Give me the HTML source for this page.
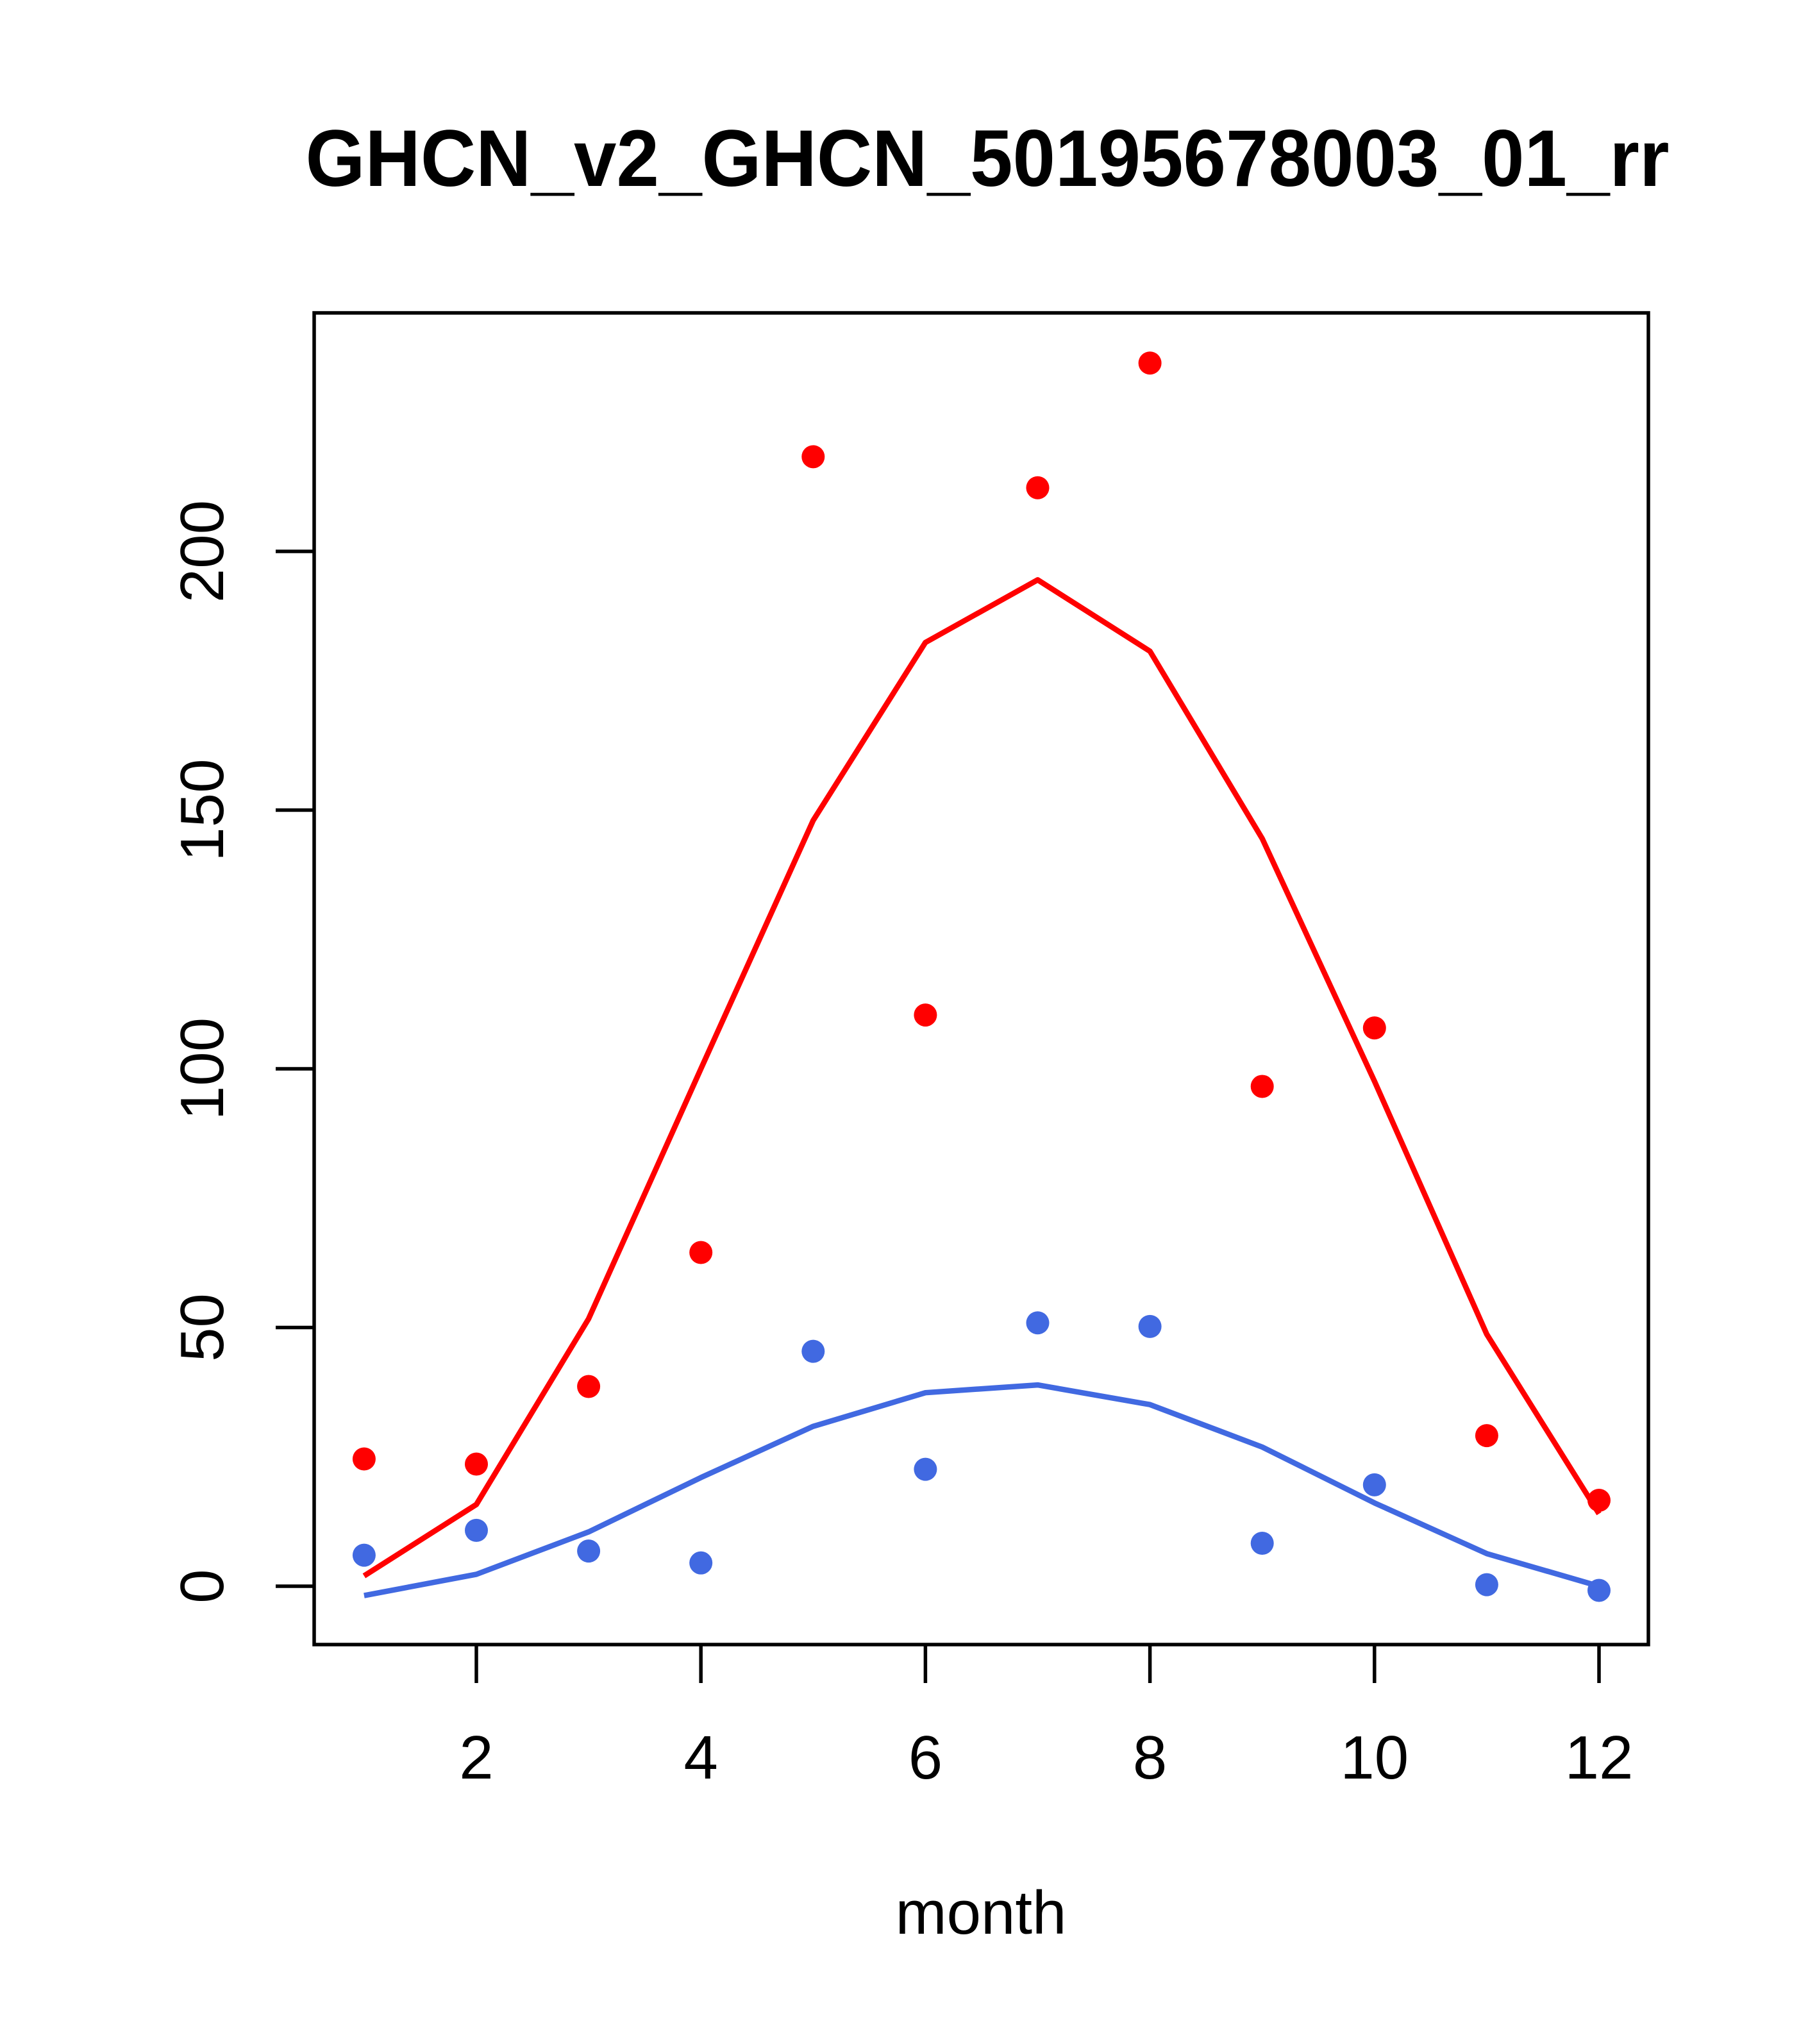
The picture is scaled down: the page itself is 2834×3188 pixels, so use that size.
<!DOCTYPE html>
<html><head><meta charset="utf-8"><style>html,body{margin:0;padding:0;background:#fff}svg{display:block}</style></head>
<body>
<svg id="chart" width="2834" height="3188" xmlns="http://www.w3.org/2000/svg" font-family="Liberation Sans, Arial, sans-serif">
<rect width="2834" height="3188" fill="#fff"/>
<text x="1540" y="290" font-size="125" font-weight="bold" text-anchor="middle" textLength="2127" lengthAdjust="spacingAndGlyphs">GHCN_v2_GHCN_50195678003_01_rr</text>
<rect x="490" y="488" width="2081" height="2077" fill="none" stroke="#000" stroke-width="5.5"/>
<g id="axes"></g>
<g id="marks"></g>
<text x="1530" y="3016" font-size="96" text-anchor="middle">month</text>
</svg>
<script>
const months = [1,2,3,4,5,6,7,8,9,10,11,12];
const redPoints = [24.6,23.6,38.6,64.5,218.3,110.4,212.3,236.4,96.6,107.9,29.1,16.6];
const redLine = [2,15.8,51.7,100,148,182.4,194.5,180.7,144.5,97.6,48.7,14];
const bluePoints = [6,10.8,6.8,4.5,45.4,22.6,50.9,50.2,8.3,19.6,0.3,-0.8];
const blueLine = [-1.8,2.3,10.5,21,30.9,37.4,38.9,35.1,26.9,16.1,6.3,0];
const xTicks = [2,4,6,8,10,12];
const yTicks = [0,50,100,150,200];

const NS = 'http://www.w3.org/2000/svg';
const xs = m => 743 + (m - 2) * (2494 - 743) / 10;
const ys = v => 2474 - v * (2474 - 860) / 200;
function mk(tag, attrs, parent) { const e = document.createElementNS(NS, tag); for (const k in attrs) e.setAttribute(k, attrs[k]); parent.appendChild(e); return e; }
const axes = document.getElementById('axes');
const marks = document.getElementById('marks');

xTicks.forEach(t => {
  const l = mk('line', {x1: xs(t), x2: xs(t), y1: 2565, y2: 2625, stroke: '#000', 'stroke-width': 5.5}, axes);
  
  
  const tx = mk('text', {x: xs(t), y: 2774, 'font-size': 96, 'text-anchor': 'middle'}, axes);
  tx.textContent = t;
  
  
});
yTicks.forEach(t => {
  const l = mk('line', {x1: 430, x2: 490, y1: ys(t), y2: ys(t), stroke: '#000', 'stroke-width': 5.5}, axes);
  
  
  const tx = mk('text', {x: 0, y: 0, 'font-size': 96, 'text-anchor': 'middle', transform: `translate(348 ${ys(t)}) rotate(-90)`}, axes);
  tx.textContent = t;
  
  
});

function drawLine(vals, color, name) {
  const p = mk('polyline', {points: vals.map((v, i) => xs(months[i]) + ',' + ys(v)).join(' '), fill: 'none', stroke: color, 'stroke-width': 8.5, 'stroke-linejoin': 'round'}, marks);
  
  
}
function drawPoints(vals, color, name) {
  vals.forEach((v, i) => {
    const c = mk('circle', {cx: xs(months[i]), cy: ys(v), r: 18, fill: color}, marks);
    
    
  });
}
drawLine(redLine, '#ff0000', 'red-line');
drawLine(blueLine, '#4169e1', 'blue-line');
drawPoints(redPoints, '#ff0000', 'red-point');
drawPoints(bluePoints, '#4169e1', 'blue-point');
</script>
</body></html>
